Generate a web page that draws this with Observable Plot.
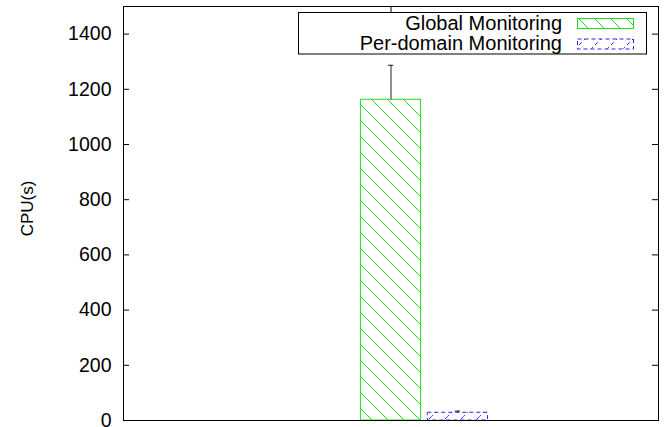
<!DOCTYPE html>
<html><head><meta charset="utf-8">
<script src="https://cdn.jsdelivr.net/npm/d3@7"></script>
<script src="https://cdn.jsdelivr.net/npm/@observablehq/plot@0.6"></script>
<style>
body{margin:0;background:#fff}
svg{font-family:"Liberation Sans",Arial,Helvetica,sans-serif}
</style>
</head><body><div id="chart"></div>
<script>
// ---- data ----
const series = ["Global Monitoring", "Per-domain Monitoring"];
const values = [1162, 28];
const errors = [1287, 34];
const yTicks = [0, 200, 400, 600, 800, 1000, 1200, 1400];
const groupTicks = [0];
const yLabel = "CPU(s)";

// ---- styles ----
const colors = ["#1fdc1f", "#2424ff"];
const patternIds = ["hatchGreen", "hatchBlue"];
const dashes = [null, "4,3"];

const W = 665, H = 427, mL = 123, mR = 7, mT = 6, mB = 7;
const xDomain = [-1, 1];
const yDomain = [0, 1500];
const pxPerX = (W - mL - mR) / (xDomain[1] - xDomain[0]);
const pxPerY = (H - mT - mB) / (yDomain[1] - yDomain[0]);
const slot = 1 / (series.length + 2);
const barW = 0.9 * slot;
const data = series.map((s, i) => ({
  i, series: s, value: values[i], err: errors[i],
  cx: groupTicks[0] + i * slot
}));
const tickX = 6 / pxPerX, tickY = 6 / pxPerY, cap = 2.7 / pxPerX;

const chart = Plot.plot({
  width: W, height: H,
  marginLeft: mL, marginRight: mR, marginTop: mT, marginBottom: mB,
  style: {background: "#fff", color: "#000", fontFamily: '"Liberation Sans", Arial, sans-serif'},
  x: {domain: xDomain, axis: null},
  y: {domain: yDomain, axis: null},
  marks: [
    ...series.map((s, i) => Plot.rectY(data.filter(d => d.i === i), {
      x1: d => d.cx - barW / 2, x2: d => d.cx + barW / 2, y1: 0, y2: "value",
      fill: `url(#${patternIds[i]})`, stroke: colors[i], strokeWidth: 1,
      strokeDasharray: dashes[i]
    })),
    Plot.ruleX(data, {x: "cx", y1: "value", y2: "err", stroke: "#222"}),
    Plot.ruleY(data, {y: "err", x1: d => d.cx - cap, x2: d => d.cx + cap, stroke: "#222"}),
    Plot.ruleY(yTicks, {y: d => d, x1: xDomain[0], x2: xDomain[0] + tickX, stroke: "#000"}),
    Plot.ruleY(yTicks, {y: d => d, x1: xDomain[1] - tickX, x2: xDomain[1], stroke: "#000"}),
    Plot.ruleX(groupTicks, {x: d => d, y1: yDomain[1] - tickY, y2: yDomain[1], stroke: "#000"}),
    Plot.text(yTicks, {x: xDomain[0], y: d => d, text: d => String(d), textAnchor: "end", dx: -12, fontSize: 19.5, fill: "#000"}),
    Plot.text([yLabel], {frameAnchor: "left", textAnchor: "middle", dx: 27 - mL, dy: -5, rotate: -90, fontSize: 17, fill: "#000"}),
    Plot.frame({stroke: "#000"})
  ]
});

// hatch patterns
const svg = d3.select(chart);
const defs = svg.insert("defs", ":first-child");
const pg = defs.append("pattern").attr("id", patternIds[0]).attr("patternUnits", "userSpaceOnUse")
  .attr("width", 16).attr("height", 16);
pg.append("path").attr("d", "M-2,-2 L18,18 M-2,14 L2,18 M14,-2 L18,2")
  .attr("stroke", colors[0]).attr("stroke-width", 1).attr("fill", "none");
const pb = defs.append("pattern").attr("id", patternIds[1]).attr("patternUnits", "userSpaceOnUse")
  .attr("width", 16).attr("height", 16);
pb.append("path").attr("d", "M-2,18 L18,-2 M-2,2 L2,-2 M14,18 L18,14")
  .attr("stroke", colors[1]).attr("stroke-width", 1).attr("fill", "none").attr("stroke-dasharray", "4,3");

// legend (inside the frame, top right)
const lg = svg.append("g");
lg.append("rect").attr("x", 298.5).attr("y", 12.5).attr("width", 348).attr("height", 41.5)
  .attr("fill", "#fff").attr("stroke", "#000");
series.forEach((s, i) => {
  lg.append("text").attr("x", 562).attr("y", 29.5 + i * 20).attr("text-anchor", "end")
    .attr("font-size", 20).attr("fill", "#000").text(s);
  lg.append("rect").attr("x", 577.5).attr("y", 18.5 + i * 20.5).attr("width", 56).attr("height", 10)
    .attr("fill", `url(#${patternIds[i]})`).attr("stroke", colors[i])
    .attr("stroke-dasharray", dashes[i]);
});

document.getElementById("chart").appendChild(chart);
</script>
</body></html>
